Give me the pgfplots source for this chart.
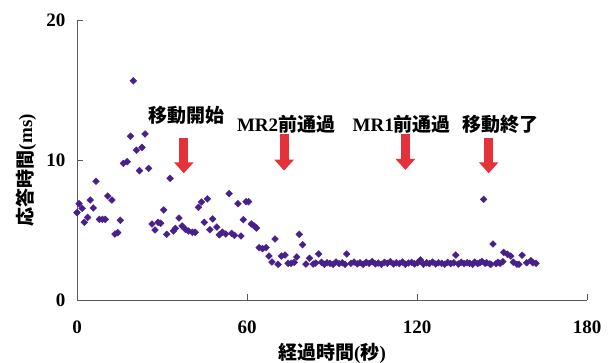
\documentclass[border=0pt]{standalone}
\usepackage{pgfplots}
\pgfplotsset{compat=1.18}
\usepackage{fontspec}
\setmainfont{Liberation Serif}
\newfontfamily\jp{Noto Sans CJK JP}
\usetikzlibrary{arrows.meta}
\definecolor{ptc}{RGB}{72,32,138}
\definecolor{arr}{RGB}{228,50,58}
\definecolor{axc}{RGB}{90,90,90}

\begin{document}
\begin{tikzpicture}
\useasboundingbox (-77pt,-63pt) rectangle (535pt,300pt);
\begin{axis}[
  at={(0pt,0pt)}, anchor=south west,
  scale only axis, width=510pt, height=280pt,
  xmin=0, xmax=180, ymin=0, ymax=20,
  axis x line*=bottom, axis y line*=left,
  xtick={0,60,120,180}, ytick={0,10,20},
  tick align=inside, major tick length=6pt,
  tick style={axc, line width=0.8pt},
  axis line style={axc, line width=0.8pt},
  /pgf/number format/assume math mode=true,
  ticklabel style={font=\fontsize{19}{19}\selectfont\bfseries},
  yticklabel style={xshift=-8pt},
  xticklabel style={yshift=-17pt},
  xlabel={{\jp 経過時間}({\jp 秒})},
  ylabel={{\jp 応答時間}(ms)},
  label style={font=\fontsize{19}{19}\selectfont\bfseries},
  xlabel style={at={(axis description cs:0.5,0)}, anchor=center, yshift=-53pt},
  ylabel style={at={(axis description cs:0,0.464)}, anchor=center, yshift=51pt},
  clip=false,
]
\addplot[only marks, mark=square*, mark size=2.4pt, mark options={rotate=45, fill=ptc, draw=ptc}] table {
x y
0.00 6.24
0.73 6.88
1.81 6.55
2.59 5.55
3.77 5.90
4.66 7.14
5.74 6.57
6.72 8.48
7.90 5.76
8.98 5.76
9.96 5.76
10.85 7.43
12.32 7.14
13.40 4.71
14.38 4.81
15.27 5.69
16.35 9.76
17.72 9.88
18.90 11.70
19.88 15.66
20.96 10.70
22.05 9.24
22.93 10.90
24.01 11.86
25.29 9.40
26.47 5.43
27.55 5.00
28.63 5.55
29.51 5.48
30.59 6.43
31.67 4.69
32.85 8.69
34.03 4.93
34.72 5.12
35.99 5.86
37.08 5.29
38.25 5.05
39.34 4.93
40.71 4.84
41.69 4.84
42.87 6.62
43.95 7.00
44.93 5.55
46.02 7.22
46.90 5.02
47.88 5.79
49.36 5.21
50.24 4.66
51.32 4.84
52.50 4.71
53.68 7.60
54.56 4.76
55.55 4.62
56.82 6.88
57.90 4.57
58.69 5.74
59.67 7.02
60.56 7.02
61.54 5.43
62.52 5.29
63.31 5.14
64.29 3.74
65.47 3.67
66.74 3.74
67.73 3.14
68.81 2.71
69.89 4.36
70.97 2.55
72.15 3.14
73.42 3.21
74.50 2.62
75.59 2.62
76.67 2.69
77.55 3.07
78.44 4.69
79.62 3.95
80.79 2.57
82.07 2.98
83.35 2.57
84.23 2.64
85.31 3.29
86.29 2.69
87.28 2.55
88.26 2.66
89.3 2.62
90.4 2.55
91.4 2.71
92.5 2.60
93.6 2.66
94.6 2.55
95.2 3.29
96.7 2.62
97.8 2.71
98.9 2.58
99.9 2.66
101.0 2.55
102.1 2.69
103.1 2.62
104.2 2.74
105.3 2.58
106.3 2.64
107.4 2.55
108.5 2.69
109.5 2.62
110.6 2.74
111.7 2.57
112.7 2.66
113.8 2.60
114.9 2.71
115.9 2.55
117.0 2.64
118.1 2.69
119.1 2.58
120.2 2.66
121.2 2.86
122.3 2.55
123.4 2.66
124.4 2.60
125.5 2.71
126.6 2.57
127.6 2.66
128.7 2.62
129.8 2.55
130.8 2.69
131.9 2.60
133.0 2.66
133.7 3.21
134.6 2.57
135.6 2.69
136.6 2.60
137.7 2.66
138.6 2.62
139.6 2.55
140.4 2.71
141.4 2.60
142.2 2.66
142.9 2.76
143.5 7.19
144.0 2.62
144.6 2.66
145.7 2.58
146.1 2.55
146.8 4.00
147.9 2.60
148.6 2.69
149.3 2.62
150.3 2.74
150.6 3.40
151.9 3.27
153.1 3.14
154.0 2.70
155.3 2.55
156.0 2.55
157.1 3.20
158.7 2.66
160.2 2.81
160.9 2.66
162.0 2.62
};
% annotations
\draw[arr, line width=9pt, -{Triangle[length=11pt, width=19pt]}] (axis cs:37.7,11.55) -- (axis cs:37.7,9.05);
\draw[arr, line width=9pt, -{Triangle[length=11pt, width=19pt]}] (axis cs:73.1,11.86) -- (axis cs:73.1,9.24);
\draw[arr, line width=9pt, -{Triangle[length=11pt, width=19pt]}] (axis cs:115.9,11.86) -- (axis cs:115.9,9.29);
\draw[arr, line width=9pt, -{Triangle[length=11pt, width=19pt]}] (axis cs:145.3,11.6) -- (axis cs:145.3,9.05);
\node[font=\fontsize{19}{19}\selectfont\jp\bfseries] at (axis cs:38.7,13.2) {移動開始};
\node[font=\fontsize{19}{19}\selectfont\bfseries] at (axis cs:73.8,12.55) {MR2{\jp 前通過}};
\node[font=\fontsize{19}{19}\selectfont\bfseries] at (axis cs:114.6,12.55) {MR1{\jp 前通過}};
\node[font=\fontsize{19}{19}\selectfont\jp\bfseries] at (axis cs:149.3,12.55) {移動終了};
\end{axis}
\end{tikzpicture}
\end{document}
